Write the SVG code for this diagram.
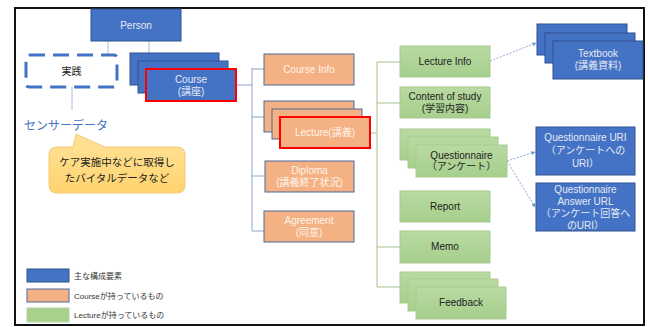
<svg xmlns="http://www.w3.org/2000/svg" width="648" height="327" viewBox="0 0 648 327">
<style>
text{font-family:"Liberation Sans","Noto Sans CJK JP",sans-serif;text-anchor:middle}
.b{fill:#4472C4;stroke:#2F528F;stroke-width:1}
.o{fill:#F4B183;stroke:#4A6A9C;stroke-width:1}
.g{fill:url(#gg);stroke:#A9C98E;stroke-width:1}
.red{stroke:#FF0000;stroke-width:2}
.wt{fill:#E4EAF4;font-size:10px}
.ot{fill:#FFF4EA;font-size:10px}
.gt{fill:#222;font-size:10px}
.c1{stroke:#A9BCDD;stroke-width:1;fill:none}
.c2{stroke:#8FA6CF;stroke-width:1;fill:none}
.c3{stroke:#A8BF8F;stroke-width:1;fill:none}
.d{stroke:#6E8FCF;stroke-width:0.8;stroke-dasharray:2 1.5;fill:none;marker-end:url(#ah)}
.lg{font-size:8px;fill:#333;text-anchor:start}
</style>
<defs>
<linearGradient id="gg" x1="0" y1="0" x2="0" y2="1"><stop offset="0" stop-color="#B9DAA2"/><stop offset="1" stop-color="#A6CF8C"/></linearGradient>
<linearGradient id="cg" x1="0" y1="0" x2="0" y2="1"><stop offset="0" stop-color="#FFE39A"/><stop offset="1" stop-color="#FFD36E"/></linearGradient>
<marker id="ah" viewBox="0 0 6 6" refX="5.5" refY="3" markerWidth="5" markerHeight="5" orient="auto"><path d="M0,0 L6,3 L0,6 Z" fill="#6E8FCF"/></marker>
</defs>
<rect x="0" y="0" width="648" height="327" fill="#fff"/>
<rect x="15" y="8" width="629" height="317" fill="#fff" stroke="#111" stroke-width="2"/>

<g id="connectors">
<path class="c1" d="M108,41 V55 M149,41 V53"/>
<path class="c1" d="M72,87 V110"/>
<path class="c2" d="M236,85 H252 M252,68 V231 M252,69 H264 M252,117 H264 M252,176 H265 M252,231 H264"/>
<path class="c3" d="M370,133 H377 M377,62 V287 M377,62 H400 M377,103 H400 M377,247 H400 M377,287 H400"/>
<path class="d" d="M490,61 L536,43"/>
<path class="d" d="M507,161 L535,152"/>
<path class="d" d="M507,161 L535,207"/>
</g>

<g id="person"><rect class="b" x="91" y="9" width="90" height="32"/><text class="wt" x="136" y="29">Person</text></g>

<g id="jissen"><rect x="26" y="55" width="91" height="32" rx="3" fill="#fff" stroke="#4472C4" stroke-width="3" stroke-dasharray="16 8"/><text x="71.5" y="75" font-size="10" fill="#222">実践</text></g>

<g id="sensor"><text x="66" y="130" font-size="12" fill="#4472C4">センサーデータ</text></g>

<g id="callout"><path d="M57,147 L73,147 L76,134 L105,147 L177,147 Q185,147 185,155 L185,185 Q185,193 177,193 L57,193 Q49,193 49,185 L49,155 Q49,147 57,147 Z" fill="url(#cg)" stroke="#F2C97A" stroke-width="1"/>
<text x="117" y="166" font-size="10.5" fill="#222">ケア実施中などに取得し</text><text x="117" y="182" font-size="10.5" fill="#222">たバイタルデータなど</text></g>

<g id="course"><rect class="b" x="130" y="53" width="89" height="32"/><rect class="b" x="138" y="61" width="90" height="32"/><rect class="b red" x="146" y="69" width="90" height="32"/><text class="wt" x="191" y="83">Course</text><text class="wt" x="191" y="95">(講座)</text></g>

<g id="course-info"><rect class="o" x="264" y="54" width="90" height="31"/><text class="ot" x="309" y="73">Course Info</text></g>

<g id="lecture"><rect class="o" x="264" y="101" width="90" height="31"/><rect class="o" x="272" y="109" width="90" height="30"/><rect class="o red" x="280" y="117" width="90" height="31"/><text class="ot" x="325" y="136">Lecture(講義)</text></g>

<g id="diploma"><rect class="o" x="265" y="161" width="89" height="31"/><text class="ot" x="309.5" y="174">Diploma</text><text class="ot" x="309.5" y="186">(講義終了状況)</text></g>

<g id="agreement"><rect class="o" x="264" y="211" width="90" height="31"/><text class="ot" x="309" y="224">Agreement</text><text class="ot" x="309" y="236">(同意)</text></g>

<g id="lecture-info"><rect class="g" x="400" y="46" width="90" height="31"/><text class="gt" x="445" y="65">Lecture Info</text></g>

<g id="content"><rect class="g" x="400" y="87" width="90" height="31"/><text class="gt" x="445" y="100">Content of study</text><text class="gt" x="445" y="112">(学習内容)</text></g>

<g id="questionnaire"><rect class="g" x="400" y="129" width="90" height="31"/><rect class="g" x="408" y="137" width="90" height="31"/><rect class="g" x="416" y="145" width="91" height="32"/><text class="gt" x="461.5" y="159" font-size="8.5">Questionnaire</text><text class="gt" x="461.5" y="170" font-size="8.5">（アンケート）</text></g>

<g id="report"><rect class="g" x="400" y="191" width="90" height="31"/><text class="gt" x="445" y="210" font-size="9">Report</text></g>

<g id="memo"><rect class="g" x="400" y="231" width="90" height="32"/><text class="gt" x="445" y="250" font-size="9">Memo</text></g>

<g id="feedback"><rect class="g" x="400" y="272" width="90" height="31"/><rect class="g" x="408" y="279" width="90" height="32"/><rect class="g" x="416" y="287" width="90" height="32"/><text class="gt" x="461" y="306" font-size="9">Feedback</text></g>

<g id="textbook"><rect class="b" x="537" y="24" width="90" height="31"/><rect class="b" x="545" y="33" width="90" height="30"/><rect class="b" x="553" y="41" width="90" height="38"/><text class="wt" x="598" y="57">Textbook</text><text class="wt" x="598" y="69">(講義資料)</text></g>

<g id="q-uri"><rect class="b" x="536" y="127" width="99" height="48"/><text class="wt" x="585.5" y="141">Questionnaire URI</text><text class="wt" x="585.5" y="154">（アンケートへの</text><text class="wt" x="585.5" y="167">URI）</text></g>

<g id="qa-url"><rect class="b" x="536" y="183" width="99" height="48"/><text class="wt" x="585.5" y="193">Questionnaire</text><text class="wt" x="585.5" y="205">Answer URL</text><text class="wt" x="585.5" y="217">（アンケート回答へ</text><text class="wt" x="585.5" y="229">のURI）</text></g>

<g id="legend">
<rect class="b" x="27" y="269" width="42" height="13"/><text class="lg" x="74" y="278.5">主な構成要素</text>
<rect class="o" x="27" y="289" width="42" height="13"/><text class="lg" x="74" y="298.5">Courseが持っているもの</text>
<rect x="27" y="308" width="42" height="14" fill="#A9D18E" stroke="#B8D4A2" stroke-width="1"/><text class="lg" x="74" y="318">Lectureが持っているもの</text>
</g>
</svg>
